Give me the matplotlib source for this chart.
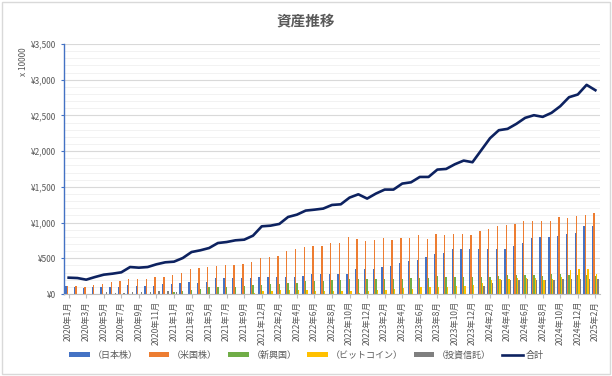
import numpy as np
import matplotlib
matplotlib.use("Agg")
import matplotlib.pyplot as plt
from matplotlib.ticker import MultipleLocator, FuncFormatter
from matplotlib.patches import Rectangle

plt.rcParams['font.family'] = ['Noto Sans CJK JP', 'DejaVu Sans']

# 月（2021年10月は欠け）
months = ["2020年1月", "2020年2月", "2020年3月", "2020年4月", "2020年5月", "2020年6月",
          "2020年7月", "2020年8月", "2020年9月", "2020年10月", "2020年11月", "2020年12月",
          "2021年1月", "2021年2月", "2021年3月", "2021年4月", "2021年5月", "2021年6月",
          "2021年7月", "2021年8月", "2021年9月", "2021年11月", "2021年12月",
          "2022年1月", "2022年2月", "2022年3月", "2022年4月", "2022年5月", "2022年6月",
          "2022年7月", "2022年8月", "2022年9月", "2022年10月", "2022年11月", "2022年12月",
          "2023年1月", "2023年2月", "2023年3月", "2023年4月", "2023年5月", "2023年6月",
          "2023年7月", "2023年8月", "2023年9月", "2023年10月", "2023年11月", "2023年12月",
          "2024年1月", "2024年2月", "2024年3月", "2024年4月", "2024年5月", "2024年6月",
          "2024年7月", "2024年8月", "2024年9月", "2024年10月", "2024年11月", "2024年12月",
          "2025年1月", "2025年2月"]

jp = [107, 98, 84, 93, 103, 93, 93, 126, 117, 117,
      117, 145, 145, 154, 163, 154, 163, 220, 220, 220,
      220, 220, 243, 243, 238, 243, 243, 257, 280, 280,
      280, 280, 280, 350, 350, 355, 378, 392, 430, 465,
      481, 523, 560, 574, 635, 635, 630, 635, 635, 635,
      635, 677, 714, 789, 798, 798, 812, 845, 855, 948, 948]
us = [107, 112, 103, 131, 145, 168, 187, 215, 215, 215,
      243, 243, 271, 299, 350, 364, 378, 392, 406, 411,
      425, 453, 509, 523, 537, 602, 635, 663, 672, 677,
      714, 714, 799, 775, 747, 761, 780, 761, 785, 785,
      822, 775, 836, 827, 836, 845, 827, 883, 911, 948,
      967, 981, 1027, 1023, 1023, 1023, 1074, 1060, 1093, 1111, 1135]
em = [0, 0, 0, 0, 0, 0, 0, 0, 0, 0,
      0, 0, 28, 47, 61, 75, 93, 93, 103, 103,
      112, 121, 131, 135, 145, 159, 159, 177, 177, 177,
      196, 196, 205, 205, 205, 215, 215, 215, 215, 224,
      229, 229, 247, 238, 233, 233, 233, 233, 233, 252,
      261, 266, 266, 260, 255, 275, 280, 270, 265, 262, 250]
btc = [0, 0, 0, 0, 0, 0, 0, 0, 0, 0,
       0, 0, 0, 0, 0, 0, 0, 0, 0, 0,
       5, 15, 42, 42, 50, 50, 56, 50, 45, 45,
       42, 42, 45, 20, 42, 50, 61, 75, 89, 70,
       98, 93, 93, 93, 112, 117, 131, 150, 200, 210,
       215, 224, 229, 229, 191, 215, 233, 341, 350, 350, 285]
fund = [0, 0, 0, 0, 23, 19, 19, 33, 28, 33,
        42, 47, 30, 0, 0, 0, 0, 0, 0, 0,
        0, 0, 0, 0, 0, 0, 0, 0, 0, 0,
        0, 0, 0, 0, 0, 0, 0, 0, 0, 0,
        0, 0, 0, 0, 0, 0, 0, 115, 160, 190,
        198, 196, 205, 198, 198, 198, 205, 208, 215, 215, 205]
total = [229, 224, 201, 238, 271, 285, 304, 378, 369, 378,
         416, 444, 453, 504, 588, 612, 644, 714, 728, 752,
         761, 817, 948, 957, 981, 1079, 1111, 1168, 1181, 1196,
         1247, 1256, 1350, 1396, 1336, 1406, 1462, 1462, 1546, 1564,
         1639, 1639, 1742, 1751, 1817, 1868, 1845, 2013, 2181, 2293,
         2312, 2382, 2466, 2503, 2480, 2536, 2629, 2755, 2793, 2928, 2853]

series = [("（日本株）", jp, "#4472C4"),
          ("（米国株）", us, "#ED7D31"),
          ("（新興国）", em, "#70AD47"),
          ("（ビットコイン）", btc, "#FFC000"),
          ("（投資信託）", fund, "#7F7F7F")]

fig = plt.figure(figsize=(6.12, 3.76), dpi=100)
ax = fig.add_axes([0.105, 0.218, 0.875, 0.665])

x = np.arange(len(months))
w = 0.15
handles = []
for k, (name, vals, col) in enumerate(series):
    b = ax.bar(x + (k - 2) * w, vals, width=w, color=col, label=name, zorder=2)
    handles.append(b)
ln, = ax.plot(x, total, color="#0D2260", linewidth=1.9, label="合計", zorder=3)
handles.append(ln)

ax.set_xlim(-0.5, len(months) - 0.5)
ax.set_ylim(0, 3500)
ax.yaxis.set_major_locator(MultipleLocator(500))
ax.yaxis.set_minor_locator(MultipleLocator(100))
ax.yaxis.set_major_formatter(FuncFormatter(lambda v, p: "¥{:,.0f}".format(v)))
ax.grid(which="major", axis="y", color="#D9D9D9", linewidth=0.8, zorder=0)
ax.grid(which="minor", axis="y", color="#F0F0F0", linewidth=0.6, zorder=0)
ax.set_axisbelow(True)

ax.set_xticks(x[::2])
ax.set_xticklabels(months[::2], rotation=90, fontsize=6, color="#595959")
ax.tick_params(axis="x", length=3, color="#BFBFBF", pad=2)
ax.tick_params(axis="y", which="both", length=0, labelsize=6, labelcolor="#595959", pad=4)
ax.tick_params(axis="y", which="major", length=2, color="#4472C4")

for s in ["top", "right"]:
    ax.spines[s].set_visible(False)
ax.spines["left"].set_color("#4472C4")
ax.spines["left"].set_linewidth(1.0)
ax.spines["bottom"].set_color("#BFBFBF")

fig.text(0.5, 0.945, "資産推移", ha="center", va="center", fontsize=10.5,
         fontweight="bold", color="#595959")
fig.text(0.038, 0.835, "x 10000", rotation=90, ha="center", va="center",
         fontsize=6, color="#595959")

fig.legend(handles=handles, labels=[h.get_label() for h in handles],
           loc="center left", bbox_to_anchor=(0.10, 0.055),
           ncol=6, frameon=False, fontsize=6.5, handlelength=2.3, handleheight=0.55,
           columnspacing=1.2, labelcolor="#595959", handletextpad=0.3)

fig.patches.append(Rectangle((0.003, 0.004), 0.994, 0.99, transform=fig.transFigure,
                             fill=False, edgecolor="#D9D9D9", linewidth=1.0))

fig.savefig("out.png", dpi=100)
